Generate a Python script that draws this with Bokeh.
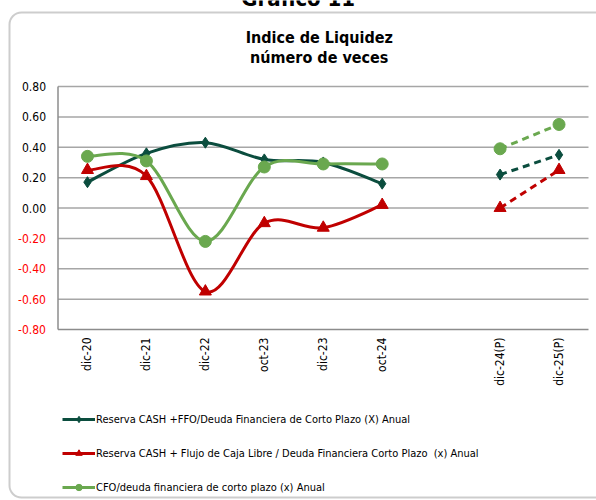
import numpy as np
from bokeh.plotting import figure
from bokeh.models import (ColumnDataSource, LabelSet, Label, Legend, LegendItem, Range1d,
                          BoxAnnotation)
from bokeh.core.properties import value
from bokeh.embed import file_html
from bokeh.resources import INLINE

# ---------------- data ----------------
categories = ["dic-20", "dic-21", "dic-22", "oct-23", "dic-23", "oct-24", "", "dic-24(P)", "dic-25(P)"]
hist_pos = [0, 1, 2, 3, 4, 5]
proj_pos = [7, 8]

cash_ffo = [0.17, 0.36, 0.43, 0.32, 0.30, 0.16]
cash_ffo_proj = [0.22, 0.35]
fcl = [0.25, 0.21, -0.55, -0.10, -0.13, 0.02]
fcl_proj = [0.00, 0.25]
cfo = [0.34, 0.31, -0.22, 0.27, 0.29, 0.29]
cfo_proj = [0.39, 0.55]

y_ticks = [-0.8, -0.6, -0.4, -0.2, 0.0, 0.2, 0.4, 0.6, 0.8]
y_tick_labels = ["-0.80", "-0.60", "-0.40", "-0.20", "0.00", "0.20", "0.40", "0.60", "0.80"]

labels = [
    "Reserva CASH +FFO/Deuda Financiera de Corto Plazo (X) Anual",
    "Reserva CASH + Flujo de Caja Libre / Deuda Financiera Corto Plazo  (x) Anual",
    "CFO/deuda financiera de corto plazo (x) Anual",
]
title_lines = ["Indice de Liquidez", "número de veces"]
header_text = "Gráfico 11"

colors = ["#0b4d3e", "#c00000", "#6aa84f"]
markers = ["diamond", "triangle", "circle"]
msizes = [11, 12, 12]
FONT = "DejaVu Sans Condensed"

# ---------------- layout (pixel geometry of the page) ----------------
W, H = 596, 500
PX_LEFT, PX_RIGHT = 57.5, 588.0      # plot area, page pixels
PY_TOP, PY_BOTTOM = 86.0, 329.0
YMIN, YMAX = y_ticks[0], y_ticks[-1]
NCAT = len(categories)
sx = (PX_RIGHT - PX_LEFT) / NCAT
sy = (PY_BOTTOM - PY_TOP) / (YMAX - YMIN)


def px_to_x(px):
    return (px - PX_LEFT) / sx


def py_to_y(py):
    return YMAX - (py - PY_TOP) / sy


p = figure(width=W, height=H, output_backend="svg", toolbar_location=None,
           x_range=Range1d(px_to_x(0), px_to_x(W)), y_range=Range1d(py_to_y(H), py_to_y(0)),
           x_axis_location=None, y_axis_location=None,
           min_border=0, min_border_left=0, min_border_right=0,
           min_border_top=0, min_border_bottom=0)
p.outline_line_color = None
p.background_fill_color = "white"
p.border_fill_color = "white"
p.xgrid.visible = False
p.ygrid.visible = False

# rounded outer frame
p.add_layout(BoxAnnotation(left=px_to_x(9), right=px_to_x(W + 40), top=py_to_y(12),
                           bottom=py_to_y(497), border_radius=12, fill_alpha=0,
                           line_color="#595959", line_width=2))

# grid lines and axis lines
grid_y = [v for v in y_ticks if v != YMIN]
p.segment(x0=[0] * len(grid_y), x1=[NCAT] * len(grid_y), y0=grid_y, y1=grid_y,
          line_color="#a6a6a6", line_width=1.5)
p.segment(x0=[0, 0], x1=[0, NCAT], y0=[YMIN, YMIN], y1=[YMAX, YMIN],
          line_color="#8c8c8c", line_width=1.5)

# y tick labels
ysrc = ColumnDataSource(dict(
    x=[0] * len(y_ticks), y=y_ticks, text=y_tick_labels,
    color=["#ff0000" if v < 0 else "black" for v in y_ticks]))
p.add_layout(LabelSet(x="x", y="y", text="text", source=ysrc, x_offset=-12,
                      text_align="right", text_baseline="middle",
                      text_font=value(FONT), text_font_size=value("12px"), text_color="color"))

# x tick labels (vertical)
xl = [(i + 0.5, c) for i, c in enumerate(categories) if c]
xsrc = ColumnDataSource(dict(x=[a for a, _ in xl], y=[YMIN] * len(xl), text=[c for _, c in xl]))
p.add_layout(LabelSet(x="x", y="y", text="text", source=xsrc, y_offset=-8, angle=np.pi / 2,
                      text_align="right", text_baseline="middle",
                      text_font=value(FONT), text_font_size=value("12px"),
                      text_color=value("black")))

# titles
p.add_layout(Label(x=NCAT / 2, y=YMAX, x_offset=-4, y_offset=49, text=title_lines[0],
                   text_align="center", text_baseline="middle", text_font=FONT,
                   text_font_size="16px", text_font_style="bold", text_color="black"))
p.add_layout(Label(x=NCAT / 2, y=YMAX, x_offset=-4, y_offset=29, text=title_lines[1],
                   text_align="center", text_baseline="middle", text_font=FONT,
                   text_font_size="16px", text_font_style="bold", text_color="black"))
p.add_layout(Label(x=NCAT / 2, y=YMAX, x_offset=-25, y_offset=88, text=header_text,
                   text_align="center", text_baseline="alphabetic", text_font=FONT,
                   text_font_size="22px", text_font_style="bold", text_color="black"))


def smooth_segments(xs, ys, t=1.0 / 6.0):
    xs = np.asarray(xs, float)
    ys = np.asarray(ys, float)
    n = len(xs)
    out = dict(x0=[], y0=[], x1=[], y1=[], cx0=[], cy0=[], cx1=[], cy1=[])
    for i in range(n - 1):
        a = max(i - 1, 0)
        b = min(i + 2, n - 1)
        out["x0"].append(xs[i]); out["y0"].append(ys[i])
        out["x1"].append(xs[i + 1]); out["y1"].append(ys[i + 1])
        out["cx0"].append(xs[i] + (xs[i + 1] - xs[a]) * t)
        out["cy0"].append(ys[i] + (ys[i + 1] - ys[a]) * t)
        out["cx1"].append(xs[i + 1] - (xs[b] - xs[i]) * t)
        out["cy1"].append(ys[i + 1] - (ys[b] - ys[i]) * t)
    return out


hx = [i + 0.5 for i in hist_pos]
px = [i + 0.5 for i in proj_pos]
series = [(cash_ffo, cash_ffo_proj), (fcl, fcl_proj), (cfo, cfo_proj)]
items = []
for k, (h, pr) in enumerate(series):
    seg = ColumnDataSource(smooth_segments(hx, h))
    rb = p.bezier(x0="x0", y0="y0", x1="x1", y1="y1", cx0="cx0", cy0="cy0",
                  cx1="cx1", cy1="cy1", source=seg, line_color=colors[k], line_width=3)
    rs = p.scatter(hx, h, marker=markers[k], size=msizes[k], color=colors[k])
    p.line(px, pr, line_color=colors[k], line_width=3, line_dash="7 5")
    p.scatter(px, pr, marker=markers[k], size=msizes[k], color=colors[k])
    items.append(LegendItem(label=labels[k], renderers=[rb, rs]))

legend = Legend(items=items, location=(62, 3), orientation="vertical",
                label_text_font=FONT, label_text_font_size="11px", label_text_color="black",
                glyph_width=33, glyph_height=16, label_height=20, label_standoff=1,
                spacing=14, padding=0, margin=0, border_line_color=None,
                background_fill_alpha=0)
p.add_layout(legend, "center")

open("out.html", "w").write(file_html(p, INLINE))
